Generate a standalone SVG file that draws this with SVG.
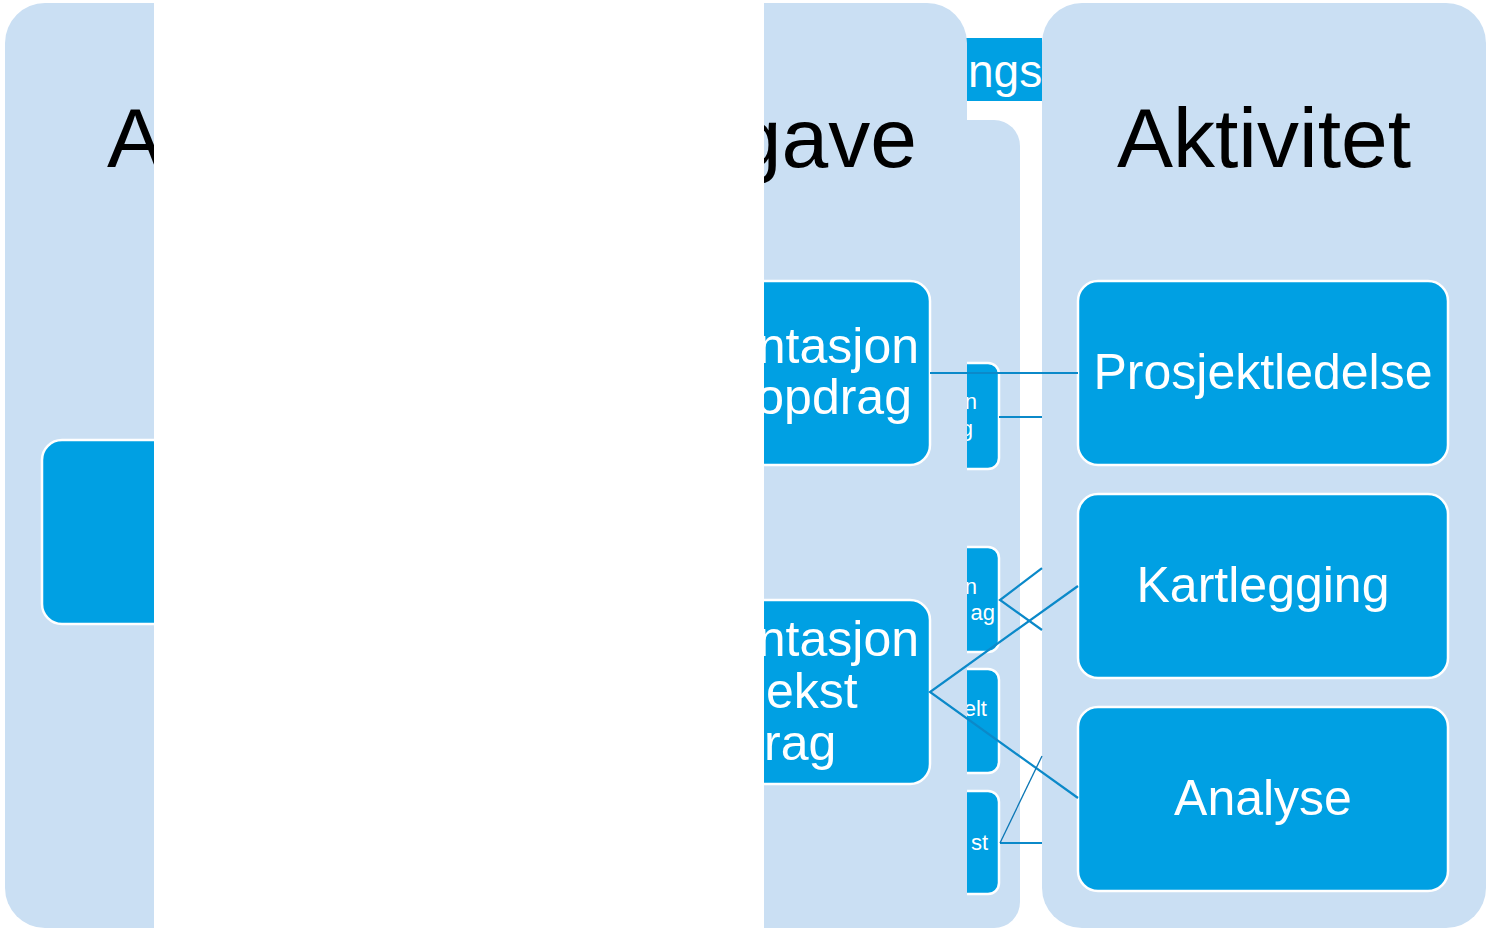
<svg xmlns="http://www.w3.org/2000/svg" width="1489" height="931" viewBox="0 0 1489 931">
<style>
.panel{fill:#CADFF3}
.node{fill:#00A0E3;stroke:#FFFFFF;stroke-width:2.5}
.title{font-family:"Liberation Sans",Arial,sans-serif;font-size:84px;fill:#000000}
.lbl{font-family:"Liberation Sans",Arial,sans-serif;font-size:50px;fill:#FFFFFF}
.sm{font-family:"Liberation Sans",Arial,sans-serif;font-size:22px;fill:#FFFFFF}
.hdr{font-family:"Liberation Sans",Arial,sans-serif;font-size:46px;fill:#FFFFFF}
.con{fill:none;stroke:#0B89C9;stroke-width:2.2}
.thin{fill:none;stroke:#0B77B5;stroke-width:1.3}
</style>
<g id="panel-c">
<rect class="panel" x="700" y="120" width="320" height="808" rx="26"/>
<g id="node-c1"><rect class="node" x="940" y="363" width="59" height="106" rx="11"/><text class="sm" x="977" y="409" text-anchor="end">n</text><text class="sm" x="973" y="436" text-anchor="end">g</text></g>
<g id="node-c2"><rect class="node" x="940" y="547" width="59" height="105" rx="11"/><text class="sm" x="977" y="594" text-anchor="end">n</text><text class="sm" x="995" y="620" text-anchor="end">ag</text></g>
<g id="node-c3"><rect class="node" x="940" y="669" width="59" height="104" rx="11"/><text class="sm" x="987" y="716" text-anchor="end">elt</text></g>
<g id="node-c4"><rect class="node" x="940" y="791" width="59" height="103" rx="11"/><text class="sm" x="988" y="850" text-anchor="end">st</text></g>
</g>
<g id="header-c">
<rect x="940" y="38" width="102" height="63" fill="#00A0E3"/>
<text class="hdr" x="968" y="87">ngs</text>
</g>
<g id="panel-a">
<rect class="panel" x="5" y="3" width="962" height="925" rx="40"/>
<rect class="panel" x="900" y="860" width="67" height="68"/>
<text class="title" x="107" y="167">A</text>
<text class="title" x="917" y="167" text-anchor="end">gave</text>
<g id="node-a1"><rect class="node" x="42" y="440" width="200" height="184" rx="20"/></g>
<g id="node-b1"><rect class="node" x="600" y="281" width="330" height="184" rx="20"/><text class="lbl" x="919" y="363" text-anchor="end">ntasjon</text><text class="lbl" x="912" y="414" text-anchor="end">opdrag</text></g>
<g id="node-b2"><rect class="node" x="600" y="600" width="330" height="184" rx="20"/><text class="lbl" x="919" y="656" text-anchor="end">ntasjon</text><text class="lbl" x="766" y="708">ekst</text><text class="lbl" x="764" y="760">rag</text></g>
</g>
<rect id="cover" x="154" y="0" width="610" height="931" fill="#FFFFFF"/>
<g id="panel-d">
<rect class="panel" x="1042" y="3" width="444" height="925" rx="40"/>
<text class="title" x="1264" y="167" text-anchor="middle">Aktivitet</text>
<g id="node-d1"><rect class="node" x="1078" y="281" width="370" height="184" rx="20"/><text class="lbl" x="1263" y="389" text-anchor="middle">Prosjektledelse</text></g>
<g id="node-d2"><rect class="node" x="1078" y="494" width="370" height="184" rx="20"/><text class="lbl" x="1263" y="602" text-anchor="middle">Kartlegging</text></g>
<g id="node-d3"><rect class="node" x="1078" y="707" width="370" height="184" rx="20"/><text class="lbl" x="1263" y="815" text-anchor="middle">Analyse</text></g>
</g>
<g id="connectors">
<path class="con" d="M930 373 L1078 373"/>
<path class="con" d="M999 417 L1042 417"/>
<path class="con" d="M1042 568 L1000 600 L1042 630"/>
<path class="con" d="M1078 586 L930 692 L1078 798"/>
<path class="con" d="M1000 843 L1042 843"/>
<path class="thin" d="M1000 843 L1042 756"/>
</g>
</svg>
